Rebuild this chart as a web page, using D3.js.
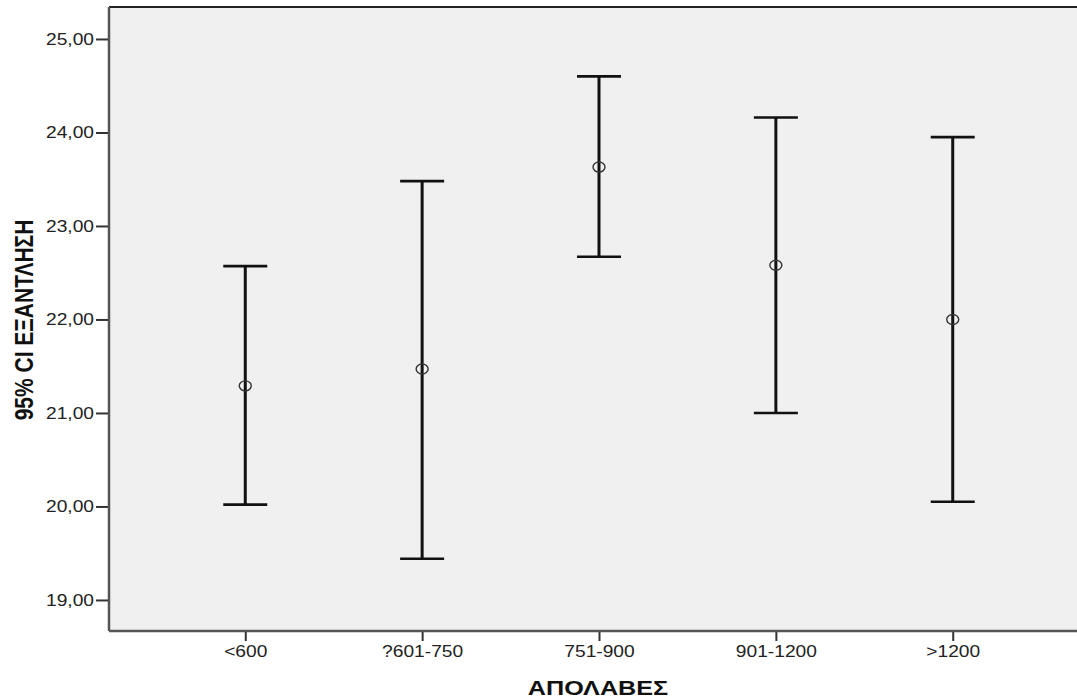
<!DOCTYPE html>
<html>
<head>
<meta charset="utf-8">
<script src="https://cdn.jsdelivr.net/npm/d3@7"></script>
<style>
  html, body { margin: 0; padding: 0; background: #fff; overflow: hidden; }
  svg { display: block; }
  text { font-family: "Liberation Sans", Arial, sans-serif; }
</style>
</head>
<body>
<svg id="chart" width="1077" height="700"></svg>
<script>
// ---- data ----
const categories = ["<600", "?601-750", "751-900", "901-1200", ">1200"];
const means      = [21.29, 21.47, 23.63, 22.58, 22.00];
const lowerCI    = [20.02, 19.44, 22.67, 21.00, 20.05];
const upperCI    = [22.57, 23.48, 24.60, 24.16, 23.95];
const yTicks     = [19, 20, 21, 22, 23, 24, 25];
const xTitle = "ΑΠΟΛΑΒΕΣ";
const yTitle = "95% CI ΕΞΑΝΤΛΗΣΗ";

const rows = categories.map((c, i) => ({ c, m: means[i], lo: lowerCI[i], hi: upperCI[i] }));

// ---- layout ----
const SX = 1.2; // horizontal text stretch of the reference
const margin = { left: 109, top: 7 };
const plotW = 980, plotH = 624;

const svg = d3.select("#chart");
const g = svg.append("g").attr("transform", `translate(${margin.left},${margin.top})`);

const x = d3.scalePoint().domain(categories).range([0, plotW]).padding(0.7705);
const y = d3.scaleLinear().domain([18.668, 25.342]).range([plotH, 0]);

// background
g.append("rect").attr("x", 0).attr("y", 0).attr("width", plotW).attr("height", plotH)
  .attr("fill", "#f0f0f0");

// top border
g.append("line").attr("x1", 0).attr("x2", plotW).attr("y1", 0).attr("y2", 0)
  .attr("stroke", "#222").attr("stroke-width", 2);

// axes
const yAxis = d3.axisLeft(y).tickValues(yTicks).tickSize(13).tickPadding(2)
  .tickFormat(d => d3.format(".2f")(d).replace(".", ","));
const yg = g.append("g").call(yAxis);
yg.select(".domain").remove();
yg.selectAll(".tick line").attr("stroke", "#333").attr("stroke-width", 2);
yg.selectAll(".tick text")
  .attr("font-size", 16).attr("fill", "#222")
  .attr("x", -15 / SX)
  .attr("transform", `scale(${SX},1)`);

const xAxis = d3.axisBottom(x).tickSize(10).tickPadding(4);
const xg = g.append("g").attr("transform", `translate(0,${plotH})`).call(xAxis);
xg.select(".domain").remove();
xg.selectAll(".tick line").attr("stroke", "#333").attr("stroke-width", 2);
xg.selectAll(".tick text")
  .attr("font-size", 16).attr("fill", "#222")
  .attr("y", 15).attr("dy", "0.71em")
  .attr("transform", `scale(${SX},1)`);

// axis lines
g.append("line").attr("x1", 0).attr("x2", 0).attr("y1", 0).attr("y2", plotH)
  .attr("stroke", "#555").attr("stroke-width", 2.5);
g.append("line").attr("x1", 0).attr("x2", plotW).attr("y1", plotH).attr("y2", plotH)
  .attr("stroke", "#555").attr("stroke-width", 2.5);

// error bars
const capHalf = 22;
const bars = g.append("g").selectAll("g").data(rows).join("g");
bars.append("line")
  .attr("x1", d => x(d.c)).attr("x2", d => x(d.c))
  .attr("y1", d => y(d.lo)).attr("y2", d => y(d.hi))
  .attr("stroke", "#111").attr("stroke-width", 3);
bars.append("line")
  .attr("x1", d => x(d.c) - capHalf).attr("x2", d => x(d.c) + capHalf)
  .attr("y1", d => y(d.hi)).attr("y2", d => y(d.hi))
  .attr("stroke", "#111").attr("stroke-width", 2.6);
bars.append("line")
  .attr("x1", d => x(d.c) - capHalf).attr("x2", d => x(d.c) + capHalf)
  .attr("y1", d => y(d.lo)).attr("y2", d => y(d.lo))
  .attr("stroke", "#111").attr("stroke-width", 2.6);
bars.append("ellipse")
  .attr("cx", d => x(d.c)).attr("cy", d => y(d.m))
  .attr("rx", 6).attr("ry", 5)
  .attr("fill", "none").attr("stroke", "#333").attr("stroke-width", 1.4);

// titles
svg.append("text")
  .attr("transform", `translate(${598},695) scale(${SX},1)`)
  .attr("text-anchor", "middle")
  .attr("font-size", 21).attr("font-weight", "bold").attr("fill", "#111")
  .text(xTitle);

svg.append("text")
  .attr("transform", `translate(33,320) scale(${SX},1) rotate(-90)`)
  .attr("text-anchor", "middle")
  .attr("font-size", 21).attr("font-weight", "bold").attr("fill", "#111")
  .text(yTitle);
</script>
</body>
</html>
